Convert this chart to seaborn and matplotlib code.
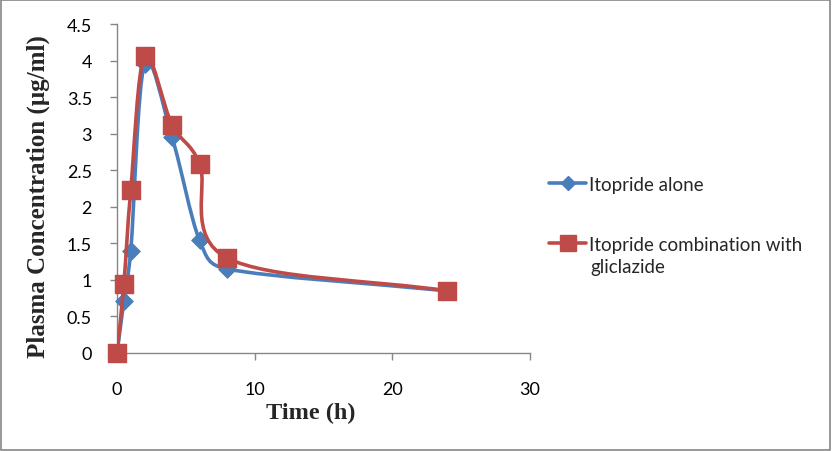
import numpy as np
import pandas as pd
import matplotlib
matplotlib.use("Agg")
import matplotlib.pyplot as plt
from matplotlib.path import Path
from matplotlib.patches import PathPatch, Rectangle
from matplotlib.lines import Line2D
import seaborn as sns

# Werte
time_h = [0, 0.5, 1, 2, 4, 6, 8, 24]
conc_alone = [0, 0.71, 1.40, 3.95, 2.95, 1.54, 1.15, 0.85]
conc_combo = [0, 0.95, 2.23, 4.06, 3.12, 2.59, 1.30, 0.85]
series_names = ["Itopride alone", "Itopride combination with\ngliclazide"]
series_colors = ["#4A7EBB", "#BE4B48"]

df = pd.DataFrame({
    "Zeit": time_h * 2,
    "Konz": conc_alone + conc_combo,
    "Serie": [series_names[0]] * len(time_h) + [series_names[1]] * len(time_h),
})

sns.set_style("white")
plt.rcParams["font.family"] = ["Lato", "DejaVu Sans"]

fig = plt.figure(figsize=(8.32, 4.52), dpi=100)
ax = fig.add_axes([117 / 832, 1 - 354 / 452, (530 - 117) / 832, (354 - 25) / 452])
ax.set_xlim(0, 30)
ax.set_ylim(0, 4.5)


def excel_smooth(ax, xs, ys, color, z):
    # Bezier-Glaettung wie bei Excel (Murphy-Variante), in Pixelkoordinaten
    pts = ax.transData.transform(np.column_stack([xs, ys]))
    n = len(pts)
    verts = [pts[0]]
    codes = [Path.MOVETO]
    for i in range(n - 1):
        first = i == 0
        last = i + 2 >= n
        p0 = pts[i] if first else pts[i - 1]
        p1 = pts[i]
        p2 = pts[i + 1]
        p3 = pts[i + 1] if last else pts[i + 2]
        d12 = np.hypot(*(p2 - p1))
        d02 = np.hypot(*(p2 - p0))
        d13 = np.hypot(*(p3 - p1))
        if d02 / 6 < d12 / 2 and d13 / 6 < d12 / 2:
            f0 = 1 / 3 if first else 1 / 6
            f1 = 1 / 3 if last else 1 / 6
        elif d02 / 6 >= d12 / 2 and d13 / 6 >= d12 / 2:
            f0 = d12 / 2 / d02
            f1 = d12 / 2 / d13
        elif d02 / 6 >= d12 / 2:
            f0 = d12 / 2 / d02
            f1 = d12 / 2 / d02
        else:
            f0 = d12 / 2 / d13
            f1 = d12 / 2 / d13
        c1 = p1 + (p2 - p0) * f0
        c2 = p2 - (p3 - p1) * f1
        verts += [c1, c2, p2]
        codes += [Path.CURVE4] * 3
    verts = ax.transData.inverted().transform(np.array(verts))
    patch = PathPatch(Path(verts, codes), facecolor="none", edgecolor=color,
                      lw=2.6, zorder=z, capstyle="round", joinstyle="round")
    ax.add_patch(patch)


excel_smooth(ax, time_h, conc_alone, series_colors[0], 2)
sns.scatterplot(data=df[df["Serie"] == series_names[0]], x="Zeit", y="Konz",
                marker="D", s=80, color=series_colors[0], edgecolor=series_colors[0],
                ax=ax, zorder=3, legend=False, clip_on=False)
excel_smooth(ax, time_h, conc_combo, series_colors[1], 4)
sns.scatterplot(data=df[df["Serie"] == series_names[1]], x="Zeit", y="Konz",
                marker="s", s=160, color=series_colors[1], edgecolor=series_colors[1],
                ax=ax, zorder=5, legend=False, clip_on=False)

ax.set_xticks([0, 10, 20, 30])
ax.set_yticks(np.arange(0, 4.51, 0.5))
ax.set_yticklabels(["0", "0.5", "1", "1.5", "2", "2.5", "3", "3.5", "4", "4.5"])
ax.tick_params(axis="both", direction="out", length=5, width=1, color="#868686",
               labelsize=13, labelcolor="black", bottom=True, left=True)
ax.tick_params(axis="x", pad=15)
ax.tick_params(axis="y", pad=13)
for side in ["top", "right"]:
    ax.spines[side].set_visible(False)
for side in ["left", "bottom"]:
    ax.spines[side].set_color("#868686")
    ax.spines[side].set_linewidth(1)

ax.set_xlabel("Time (h)", family="Liberation Serif", fontweight="bold", fontsize=17.5, labelpad=4)
ax.set_ylabel("Plasma Concentration (\u00b5g/ml)", family="Liberation Serif",
              fontweight="bold", fontsize=18, labelpad=12)
ax.xaxis.label.set_position((0.47, 0))
ax.yaxis.label.set_position((0, 0.48))

# Legende: zweite Zeile des langen Namens separat, damit das Symbol an der ersten Zeile sitzt
legend_lines = [name.split("\n") for name in series_names]
handles = [
    Line2D([], [], color=series_colors[0], lw=2.6, marker="D", markersize=7),
    Line2D([], [], color=series_colors[1], lw=2.6, marker="s", markersize=11),
]
leg = fig.legend(handles, [lines[0] for lines in legend_lines], loc="upper left",
                 bbox_to_anchor=(532 / 832, 1 - 160 / 452), frameon=False, fontsize=13.5,
                 labelspacing=2.3, handlelength=2.0, handletextpad=0.15)
fig.text(590 / 832, 1 - 268 / 452, legend_lines[1][1], fontsize=13.5, va="center", ha="left")

fig.add_artist(Rectangle((0.001, 0.002), 0.997, 0.995, transform=fig.transFigure,
                         fill=False, edgecolor="#868686", lw=1.2))

fig.savefig("out.png", dpi=100)
